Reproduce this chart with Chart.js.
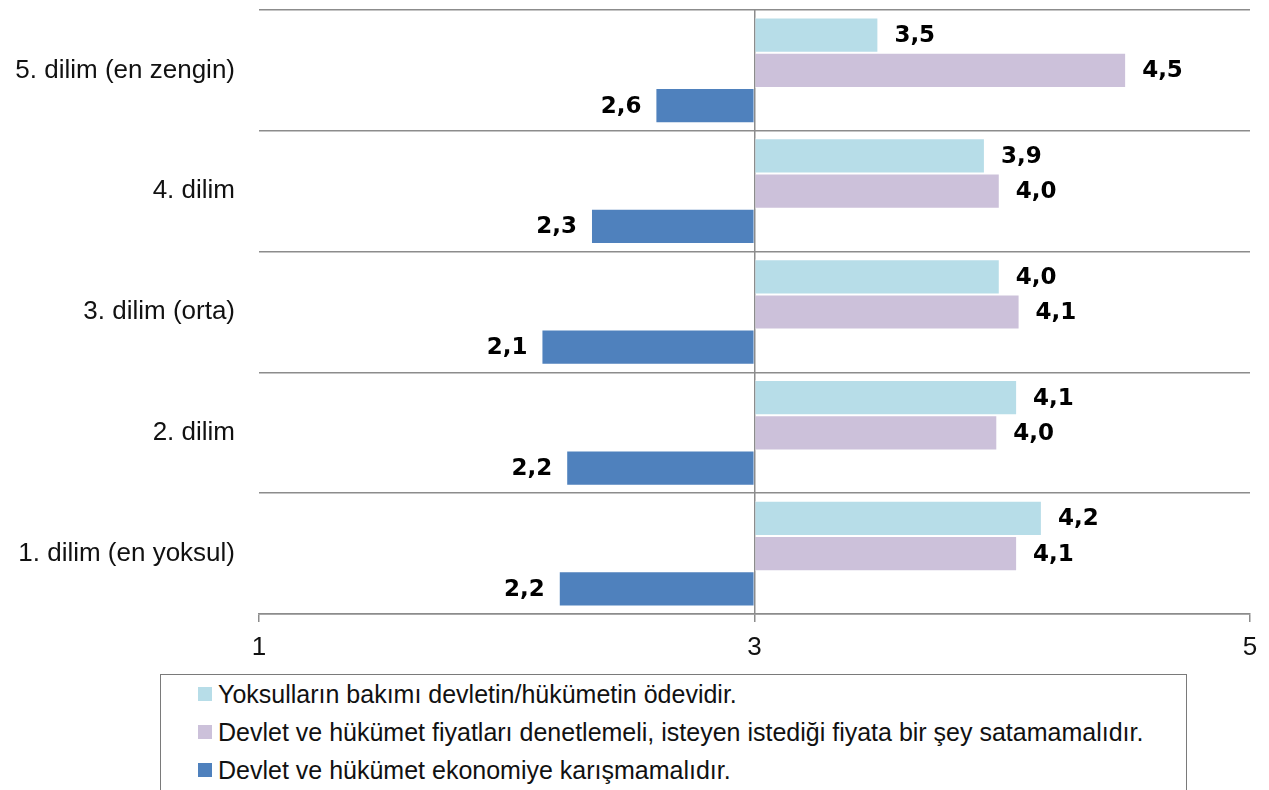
<!DOCTYPE html>
<html lang="tr">
<head>
<meta charset="utf-8">
<script src="https://cdn.jsdelivr.net/npm/chart.js@4"></script>
<style>
    html, body { margin: 0; padding: 0; background: #fff; }
    body { width: 1269px; height: 790px; position: relative; overflow: hidden; font-family: "Liberation Sans", Arial, sans-serif; }
    #chartBox { position: absolute; left: 0; top: 0; width: 1269px; height: 664px; }
    #legendBox {
        position: absolute; left: 160px; top: 674px; width: 1027px; height: 140px;
        border: 1.5px solid #7a7a7a; box-sizing: border-box;
    }
    .legend-item { position: relative; height: 38px; line-height: 38px; font-size: 25px; color: #111; white-space: nowrap; }
    .legend-item .mark { position: absolute; left: 37px; top: 12px; width: 14px; height: 14px; }
    .legend-item .txt { position: absolute; left: 57px; top: 0; }
</style>
</head>
<body>
<div id="chartBox"><canvas id="dilimChart"></canvas></div>
<div id="legendBox"></div>

<script>
// gelir dilimleri (yukarıdan aşağıya)
const categories = ['5. dilim (en zengin)', '4. dilim', '3. dilim (orta)', '2. dilim', '1. dilim (en yoksul)'];

// seri adları
const seriesNames = [
    'Yoksulların bakımı devletin/hükümetin ödevidir.',
    'Devlet ve hükümet fiyatları denetlemeli, isteyen istediği fiyata bir şey satamamalıdır.',
    'Devlet ve hükümet ekonomiye karışmamalıdır.'
];

// ortalama puanlar
const yoksullarBakimi = [3.50, 3.93, 3.99, 4.06, 4.16];
const fiyatDenetimi = [4.50, 3.99, 4.07, 3.98, 4.06];
const ekonomiyeKarisma = [2.60, 2.34, 2.14, 2.24, 2.21];

// eksen değerleri
const axisMin = 1;
const axisMid = 3;
const axisMax = 5;
const axisStep = 2;

const colors = ['#B7DDE8', '#CCC1DA', '#4F81BD'];
const gridGray = '#8c8c8c';
const labelFont = '"Liberation Sans", Arial, sans-serif';

// değer etiketleri
const valueLabelPlugin = {
    id: 'valueLabels',
    afterDatasetsDraw(chart) {
        const ctx = chart.ctx;
        ctx.save();
        ctx.font = 'bold 23px "DejaVu Sans", sans-serif';
        ctx.fillStyle = '#000';
        ctx.textBaseline = 'middle';
        chart.data.datasets.forEach((ds, i) => {
            const meta = chart.getDatasetMeta(i);
            meta.data.forEach((bar, j) => {
                const v = ds.data[j];
                const text = v.toFixed(1).replace('.', ',');
                if (v >= axisMid) {
                    ctx.textAlign = 'left';
                    ctx.fillText(text, bar.x + 16, bar.y + 1);
                } else {
                    ctx.textAlign = 'right';
                    ctx.fillText(text, bar.x - 14, bar.y + 1);
                }
            });
        });
        ctx.restore();
    }
};

const chart = new Chart(document.getElementById('dilimChart'), {
    type: 'bar',
    data: {
        labels: categories,
        datasets: [
            { label: seriesNames[0], data: yoksullarBakimi, backgroundColor: colors[0] },
            { label: seriesNames[1], data: fiyatDenetimi, backgroundColor: colors[1] },
            { label: seriesNames[2], data: ekonomiyeKarisma, backgroundColor: colors[2] }
        ].map(ds => Object.assign(ds, {
            base: axisMid,
            borderColor: 'rgba(255,255,255,0.7)',
            borderWidth: 1,
            barPercentage: 1,
            categoryPercentage: 0.875
        }))
    },
    options: {
        indexAxis: 'y',
        responsive: true,
        maintainAspectRatio: false,
        animation: false,
        layout: { padding: { top: 10, right: 19, bottom: 0, left: 0 } },
        plugins: {
            legend: { display: false },
            tooltip: { enabled: false }
        },
        scales: {
            x: {
                min: axisMin,
                max: axisMax,
                ticks: {
                    stepSize: axisStep,
                    padding: 10,
                    color: '#111',
                    font: { family: labelFont, size: 26 }
                },
                grid: {
                    color: c => (c.tick && c.tick.value === axisMid) ? gridGray : 'rgba(0,0,0,0)',
                    tickColor: gridGray,
                    tickLength: 8,
                    lineWidth: 1.5
                },
                border: { display: true, color: gridGray, width: 1.5 },
                afterFit: s => { s.height = 50; }
            },
            y: {
                ticks: {
                    padding: 24,
                    color: '#111',
                    font: { family: labelFont, size: 26 }
                },
                grid: {
                    offset: true,
                    color: gridGray,
                    lineWidth: 1.5,
                    drawTicks: false
                },
                border: { display: false },
                afterFit: s => {
                    s.width = 259;
                    s.paddingTop = 0;
                    s.paddingBottom = 0;
                }
            }
        }
    },
    plugins: [valueLabelPlugin]
});

// lejant kutusu
const legendBox = document.getElementById('legendBox');
chart.data.datasets.forEach(ds => {
    const item = document.createElement('div');
    item.className = 'legend-item';
    item.innerHTML = `<span class="mark" style="background:${ds.backgroundColor}"></span><span class="txt">${ds.label}</span>`;
    legendBox.appendChild(item);
});
</script>
</body>
</html>
